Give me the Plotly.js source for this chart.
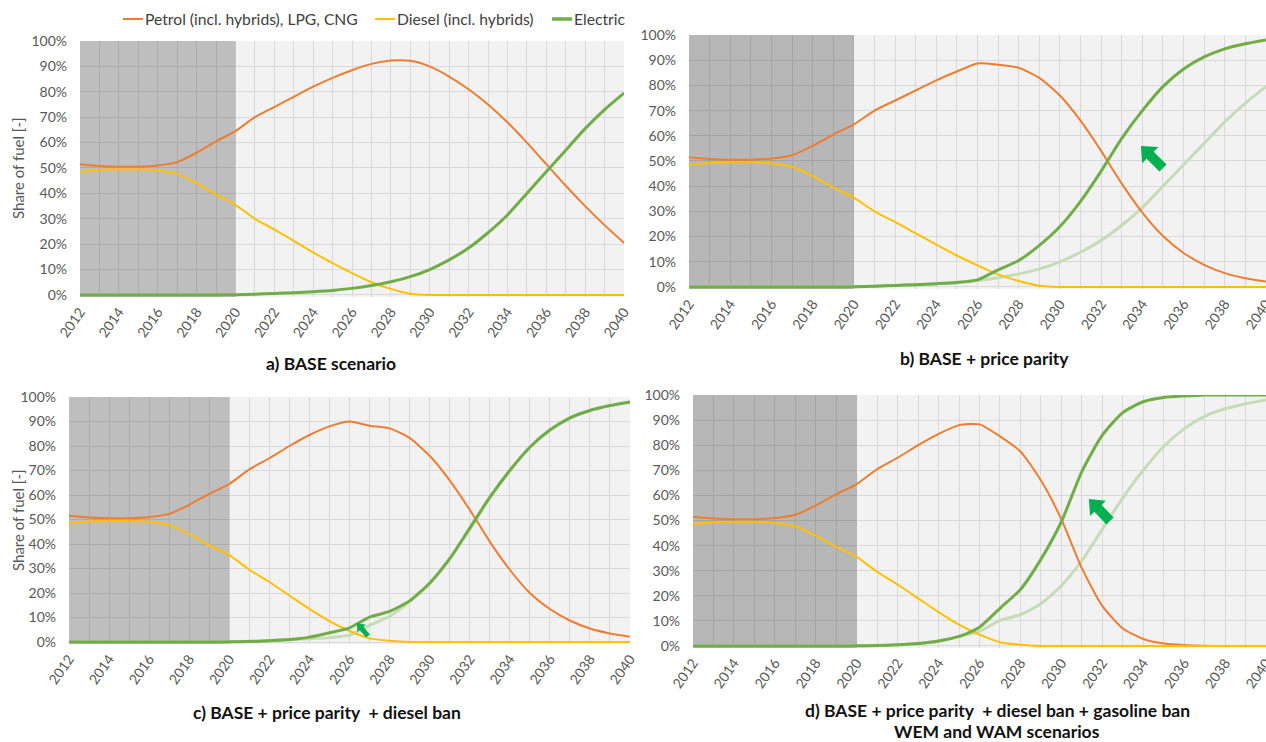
<!DOCTYPE html>
<html>
<head>
<meta charset="utf-8">
<script src="https://cdn.plot.ly/plotly-3.0.1.min.js"></script>
<style>
  html, body { margin: 0; padding: 0; background: #ffffff; }
  #chart { width: 1266px; height: 742px; }
</style>
</head>
<body>
<div id="chart"></div>
<script>
// ---------------- DATA ----------------
const years = [2012,2013,2014,2015,2016,2017,2018,2019,2020,2021,2022,2023,2024,2025,2026,2027,2028,2029,2030,2031,2032,2033,2034,2035,2036,2037,2038,2039,2040];

const seriesNames = ["Petrol (incl. hybrids), LPG, CNG", "Diesel (incl. hybrids)", "Electric"];

const panelTitles = [
  ["a) BASE scenario"],
  ["b) BASE + price parity"],
  ["c) BASE + price parity  + diesel ban"],
  ["d) BASE + price parity  + diesel ban + gasoline ban", "WEM and WAM scenarios"]
];

const yTitle = "Share of fuel [-]";

// a) BASE scenario
const petrolA   = [51.5,50.8,50.5,50.5,51.0,52.3,56.0,60.5,64.5,70.0,74.0,78.0,82.0,85.5,88.5,91.0,92.3,92.2,90.0,86.0,81.0,75.0,68.0,60.0,51.5,43.0,35.0,27.5,20.5];
const dieselA   = [48.5,49.2,49.5,49.5,49.0,47.7,44.0,39.5,35.5,30.0,25.8,21.3,16.8,12.5,8.6,5.0,2.4,0.5,0,0,0,0,0,0,0,0,0,0,0];
const electricA = [0,0,0,0,0,0,0,0,0.1,0.3,0.6,0.9,1.3,1.8,2.6,3.7,5.2,7.2,10.0,13.8,18.5,24.5,31.5,40.0,48.5,57.0,65.5,73.0,79.5];

// b) BASE + price parity
const petrolB   = [51.5,50.8,50.5,50.5,51.0,52.3,56.0,60.5,64.5,70.0,74.0,78.0,82.0,85.5,88.7,88.2,87.0,83.0,76.0,66.0,54.0,41.0,29.5,20.2,13.5,8.8,5.5,3.5,2.2];
const dieselB   = [48.5,49.2,49.5,49.5,49.0,47.7,44.0,39.5,35.5,30.0,25.8,21.3,16.8,12.5,8.6,5.0,2.4,0.5,0,0,0,0,0,0,0,0,0,0,0];
const electricB = [0,0,0,0,0,0,0,0,0.1,0.3,0.6,0.9,1.3,1.8,2.8,6.8,10.5,16.5,24.0,34.0,46.0,59.0,70.0,79.5,86.5,91.3,94.5,96.5,98.0];

// c) BASE + price parity + diesel ban
const petrolC   = [51.5,50.8,50.5,50.5,51.0,52.3,56.0,60.5,64.5,70.5,75.0,80.0,84.5,88.0,90.0,88.3,87.2,83.3,76.0,66.0,54.0,41.0,29.5,20.0,13.5,8.8,5.5,3.5,2.2];
const dieselC   = [48.5,49.2,49.5,49.5,49.0,47.7,44.0,39.5,35.5,29.5,24.5,19.0,13.5,8.5,4.5,1.5,0.5,0,0,0,0,0,0,0,0,0,0,0,0];
const electricC = [0,0,0,0,0,0,0,0,0.1,0.2,0.5,1.0,2.0,3.8,5.8,10.2,12.5,16.8,24.0,34.0,46.5,59.0,70.0,79.5,86.5,91.5,94.5,96.5,98.0];

// d) BASE + price parity + diesel ban + gasoline ban
const petrolD   = [51.5,50.8,50.5,50.5,51.0,52.3,56.0,60.5,64.5,70.5,75.0,80.0,84.5,88.0,88.3,83.5,77.5,66.0,50.5,31.0,16.0,7.0,2.8,1.0,0.4,0.1,0,0,0];
const dieselD   = [48.5,49.2,49.5,49.5,49.0,47.7,44.0,39.5,35.5,29.5,24.5,19.0,13.5,8.5,4.5,1.5,0.5,0,0,0,0,0,0,0,0,0,0,0,0];
const electricD = [0,0,0,0,0,0,0,0,0.1,0.2,0.5,1.0,2.0,3.8,7.5,15.0,22.5,34.5,49.5,69.5,84.0,93.0,97.3,99.0,99.6,100,100,100,100];

const historyEnd = 2020;
const yTickVals = [0,10,20,30,40,50,60,70,80,90,100];
const yTickText = ["0%","10%","20%","30%","40%","50%","60%","70%","80%","90%","100%"];

// ---------------- STYLE ----------------
const W = 1266, H = 742;
const FONT = "Lato, 'Open Sans', sans-serif";
const cOrange = "#ED7D31", cYellow = "#FFC000", cGreen = "#70AD47", cFaded = "#c6dbb7", cArrow = "#00B050";
const px = v => v / W;
const py = v => 1 - v / H;

// panel pixel boxes: [left, right, top, bottom]
const boxes = [
  [80, 624, 41, 297],
  [689, 1266, 35, 289],
  [69, 630, 397, 644],
  [693, 1266, 395, 648]
];
const shadeAlpha = [0.21, 0.245, 0.21, 0.245];

const panels = [
  {p: petrolA, d: dieselA, e: electricA, faded: null},
  {p: petrolB, d: dieselB, e: electricB, faded: electricA},
  {p: petrolC, d: dieselC, e: electricC, faded: electricB},
  {p: petrolD, d: dieselD, e: electricD, faded: electricC}
];

const traces = [];
const layout = {
  width: W, height: H,
  margin: {l: 0, r: 0, t: 0, b: 0},
  paper_bgcolor: "#ffffff",
  plot_bgcolor: "#f2f2f2",
  showlegend: false,
  font: {family: FONT, color: "#595959", size: 14},
  shapes: [],
  annotations: []
};

panels.forEach((pn, i) => {
  const k = i === 0 ? "" : String(i + 1);
  const xa = "x" + k, ya = "y" + k;
  const b = boxes[i];
  const lineShape = {shape: "spline", smoothing: 0.6};
  if (pn.faded) {
    traces.push({x: years, y: pn.faded, xaxis: xa, yaxis: ya, mode: "lines",
      line: Object.assign({color: cFaded, width: 3}, lineShape), hoverinfo: "skip"});
  }
  traces.push({x: years, y: pn.p, xaxis: xa, yaxis: ya, mode: "lines", name: seriesNames[0],
    line: Object.assign({color: cOrange, width: 2}, lineShape)});
  traces.push({x: years, y: pn.d, xaxis: xa, yaxis: ya, mode: "lines", name: seriesNames[1],
    line: Object.assign({color: cYellow, width: 2}, lineShape)});
  traces.push({x: years, y: pn.e, xaxis: xa, yaxis: ya, mode: "lines", name: seriesNames[2],
    line: Object.assign({color: cGreen, width: 3}, lineShape)});

  layout["xaxis" + k] = {
    domain: [px(b[0]), px(b[1])],
    anchor: ya,
    range: [years[0], years[years.length - 1]],
    tickmode: "linear", tick0: 2012, dtick: 2,
    tickangle: -55,
    ticklabeloverflow: "allow",
    showgrid: true, gridcolor: "#d9d9d9", gridwidth: 1,
    minor: {dtick: 1, tick0: 2012, showgrid: true, gridcolor: "#d9d9d9", gridwidth: 1},
    zeroline: false, showline: false, ticks: "",
    ticklabelstandoff: 3,
    tickfont: {family: FONT, size: 14, color: "#595959"},
    fixedrange: true
  };
  layout["yaxis" + k] = {
    domain: [py(b[3]), py(b[2])],
    anchor: xa,
    range: [-0.8, 100],
    tickmode: "array", tickvals: yTickVals, ticktext: yTickText,
    showgrid: true, gridcolor: "#d9d9d9", gridwidth: 1,
    zeroline: false, showline: false, ticks: "",
    ticklabelstandoff: 12,
    tickfont: {family: FONT, size: 14, color: "#595959"},
    fixedrange: true
  };
  // historical shading
  layout.shapes.push({type: "rect", xref: xa, yref: ya, x0: years[0], x1: historyEnd, y0: -0.8, y1: 100,
    fillcolor: "rgba(0,0,0," + shadeAlpha[i] + ")", line: {width: 0}, layer: "between"});
});

// panel titles
const titlePos = [[[331, 363]], [[984, 358]], [[327, 712]], [[997, 710], [997, 731]]];
panelTitles.forEach((lines, i) => {
  lines.forEach((t, j) => {
    layout.annotations.push({text: "<b>" + t + "</b>", xref: "paper", yref: "paper",
      x: px(titlePos[i][j][0]), y: py(titlePos[i][j][1]), xanchor: "center", yanchor: "middle",
      showarrow: false, font: {family: FONT, size: 17.5, color: "#111111"}});
  });
});

// y axis titles (panels a and c)
[[18, 168], [18, 520]].forEach(p => {
  layout.annotations.push({text: yTitle, xref: "paper", yref: "paper", x: px(p[0]), y: py(p[1]),
    xanchor: "center", yanchor: "middle", textangle: -90, showarrow: false,
    font: {family: FONT, size: 15, color: "#595959"}});
});

// custom legend
const legendItems = [
  {x: 123, color: cOrange, w: 2},
  {x: 375, color: cYellow, w: 2},
  {x: 552, color: cGreen, w: 3.5}
];
legendItems.forEach((it, i) => {
  layout.shapes.push({type: "line", xref: "paper", yref: "paper",
    x0: px(it.x), x1: px(it.x + 20), y0: py(19), y1: py(19), line: {color: it.color, width: it.w}});
  layout.annotations.push({text: seriesNames[i], xref: "paper", yref: "paper",
    x: px(it.x + 20), y: py(19), xanchor: "left", yanchor: "middle", showarrow: false,
    font: {family: FONT, size: 15.7, color: "#404040"}});
});

// green block arrows (pointing up-left), built as polygons in paper coordinates
function blockArrow(tip, tail, hw, hl, sw) {
  const dx = tip[0] - tail[0], dy = tip[1] - tail[1];
  const L = Math.hypot(dx, dy);
  const ux = dx / L, uy = dy / L, nx = -uy, ny = ux;
  const nk = [tip[0] - ux * hl, tip[1] - uy * hl];
  const pts = [
    [tail[0] + nx * sw / 2, tail[1] + ny * sw / 2],
    [nk[0] + nx * sw / 2, nk[1] + ny * sw / 2],
    [nk[0] + nx * hw / 2, nk[1] + ny * hw / 2],
    tip,
    [nk[0] - nx * hw / 2, nk[1] - ny * hw / 2],
    [nk[0] - nx * sw / 2, nk[1] - ny * sw / 2],
    [tail[0] - nx * sw / 2, tail[1] - ny * sw / 2]
  ];
  return "M " + pts.map(p => px(p[0]).toFixed(5) + "," + py(p[1]).toFixed(5)).join(" L ") + " Z";
}
const arrows = [
  {tip: [1141, 146], tail: [1163, 168], hw: 23, hl: 13, sw: 10},
  {tip: [357, 623], tail: [368, 636], hw: 11, hl: 7, sw: 5},
  {tip: [1089, 499], tail: [1110, 521], hw: 22, hl: 13, sw: 10}
];
arrows.forEach(a => {
  layout.shapes.push({type: "path", xref: "paper", yref: "paper",
    path: blockArrow(a.tip, a.tail, a.hw, a.hl, a.sw),
    fillcolor: cArrow, line: {width: 0}, layer: "above"});
});

Plotly.newPlot("chart", traces, layout, {displayModeBar: false, staticPlot: true});
</script>
</body>
</html>
